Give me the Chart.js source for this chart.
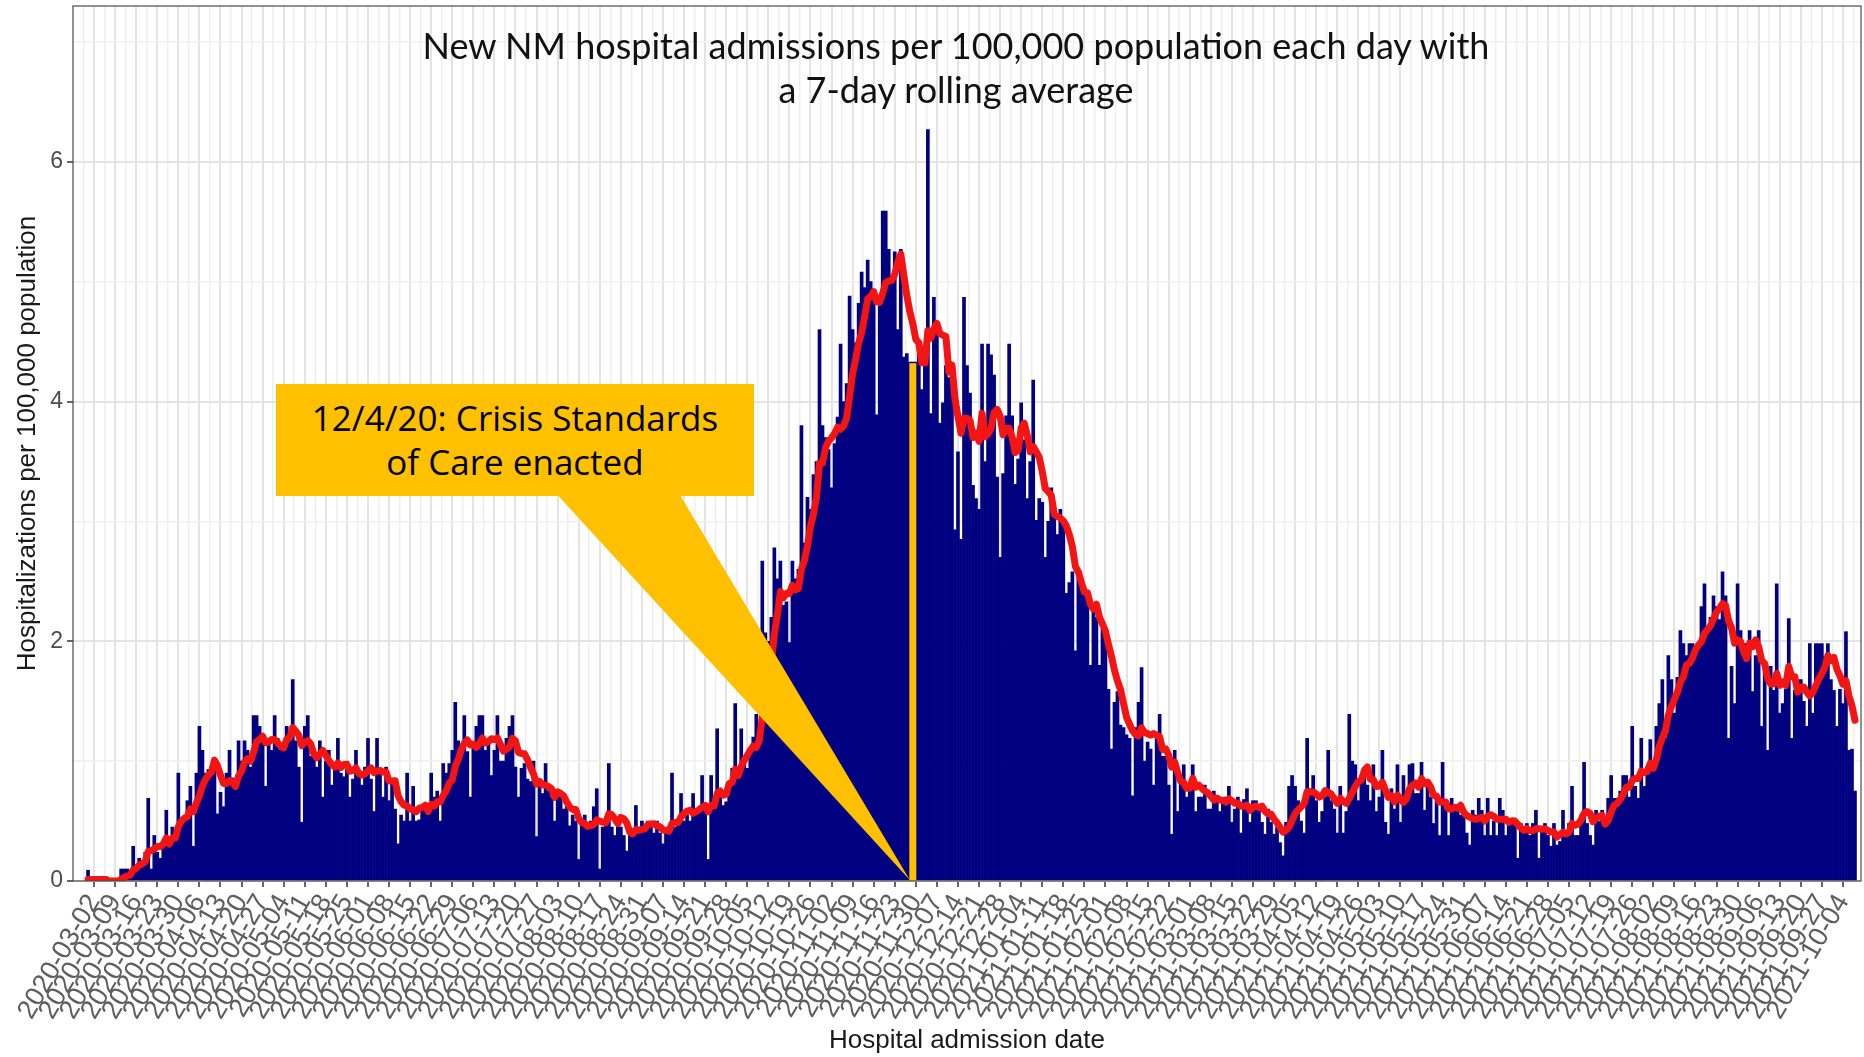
<!DOCTYPE html>
<html>
<head>
<meta charset="utf-8">
<title>NM hospital admissions per 100,000</title>
<script src="https://cdn.jsdelivr.net/npm/chart.js@4.4.1/dist/chart.umd.min.js"></script>
<style>
  html, body { margin: 0; padding: 0; background: #fff; }
  .wrap { position: relative; width: 1864px; height: 1057px; overflow: hidden; }
  #chart { position: absolute; left: 0; top: 0; }
  .plot-title {
    position: absolute; left: 306px; top: 23px; width: 1300px;
    text-align: center; font-family: Lato, sans-serif; font-size: 36px;
    line-height: 44px; color: #111;
  }
  .callout {
    position: absolute; left: 276px; top: 384px; width: 478px; height: 112px;
    background: #ffc000; display: flex; align-items: center; justify-content: center;
    text-align: center; font-family: "Open Sans", sans-serif; font-size: 35px;
    line-height: 44px; color: #000;
  }
</style>
</head>
<body>
<div class="wrap">
  <canvas id="chart" width="1864" height="1057"></canvas>
  <div class="plot-title">New NM hospital admissions per 100,000 population each day with<br>a 7-day rolling average</div>
  <div class="callout">12/4/20: Crisis Standards<br>of Care enacted</div>
</div>
<script>
/* day numbers count from 2020-03-02 (day 0); the first bar is 2020-02-29 */
const firstDay = -2;

/* daily admissions per 100,000, one row per week (Mon..Sun) */
const dailyRate = [
  0.09, 0,
  0, 0, 0, 0, 0, 0, 0,
  0, 0, 0.1, 0.1, 0.1, 0.05, 0.29,
  0.1, 0.19, 0.17, 0.24, 0.69, 0.1, 0.38,
  0.24, 0.19, 0.33, 0.59, 0.33, 0.45, 0.38,
  0.9, 0.52, 0.5, 0.67, 0.79, 0.29, 0.9,
  1.29, 1.09, 0.9, 0.93, 0.95, 1.0, 0.56,
  0.74, 0.62, 0.9, 1.09, 0.86, 0.76, 1.17,
  1.0, 1.17, 1.09, 0.95, 1.38, 1.38, 1.29,
  1.19, 0.79, 1.14, 1.09, 1.38, 1.19, 1.09,
  1.09, 1.29, 1.24, 1.68, 1.17, 0.95, 0.49,
  1.29, 1.38, 1.04, 1.09, 0.95, 1.17, 0.7,
  1.0, 1.09, 0.8, 0.95, 1.19, 0.9, 0.87,
  1.0, 0.7, 0.85, 1.09, 0.87, 0.8, 0.95,
  1.19, 0.85, 0.58, 1.19, 0.9, 0.7, 0.95,
  0.67, 0.85, 0.6, 0.31, 0.55, 0.5, 0.9,
  0.5, 0.79, 0.5, 0.51, 0.6, 0.62, 0.55,
  0.9, 0.7, 0.75, 0.5, 0.98, 0.9, 0.98,
  1.09, 1.49, 1.17, 1.04, 1.38, 1.08, 0.7,
  1.14, 1.29, 1.38, 1.38, 1.09, 1.15, 0.88,
  1.09, 1.38, 1.0, 1.0, 1.19, 1.29, 1.38,
  0.95, 0.7, 0.94, 0.98, 0.85, 0.83, 1.0,
  0.37, 0.85, 0.73, 0.98, 0.75, 0.7, 0.5,
  0.7, 0.75, 0.6, 0.62, 0.46, 0.55, 0.5,
  0.18, 0.5, 0.55, 0.45, 0.5, 0.62, 0.77,
  0.1, 0.45, 0.5, 0.98, 0.45, 0.38, 0.5,
  0.45, 0.38, 0.25, 0.42, 0.38, 0.63, 0.45,
  0.5, 0.42, 0.5, 0.45, 0.4, 0.5, 0.4,
  0.31, 0.4, 0.45, 0.9, 0.45, 0.5, 0.73,
  0.5, 0.55, 0.5, 0.73, 0.55, 0.6, 0.88,
  0.6, 0.18, 0.88, 0.7, 1.27, 0.75, 0.63,
  0.66, 0.8, 0.94, 1.48, 0.9, 1.27, 1.0,
  0.94, 1.1, 1.2, 1.39, 1.3, 2.67, 2.07,
  2.0, 2.2, 2.78, 2.52, 2.67, 2.3, 2.33,
  1.99, 2.67, 2.52, 2.6, 3.8, 2.82, 3.2,
  3.1, 3.39, 3.5, 4.6, 3.8, 3.7, 3.6,
  3.28, 3.65, 3.87, 4.48, 4.0, 4.15, 4.88,
  4.6, 4.49, 4.82, 5.08, 4.95, 5.18, 5.0,
  4.9, 3.89, 4.8, 5.59, 5.59, 5.27, 5.04,
  5.25, 4.6, 5.27, 4.37, 4.4, 4.33, 4.33,
  4.33, 4.4, 4.1, 4.37, 6.27, 3.9, 4.87,
  4.65, 3.82, 3.99, 4.3, 4.2, 4.3, 2.93,
  3.58, 2.85, 4.87, 4.3, 4.07, 3.3, 3.19,
  3.1, 4.48, 3.5, 4.48, 4.39, 4.22, 3.37,
  2.7, 3.4, 3.88, 4.48, 3.88, 3.31, 3.52,
  3.99, 3.68, 3.19, 3.5, 4.18, 3.01, 3.19,
  3.16, 2.7, 3.0, 3.28, 3.07, 2.89, 3.1,
  3.0, 2.4, 2.49, 2.58, 1.92, 2.55, 2.5,
  2.43, 2.37, 1.8, 2.31, 2.2, 1.8, 2.1,
  2.01, 1.6, 1.1, 1.49, 1.58, 1.3, 1.28,
  1.22, 1.19, 0.71, 1.28, 1.49, 1.78, 1.0,
  1.16, 1.1, 0.8, 1.19, 1.39, 1.04, 1.04,
  0.8, 0.39, 1.09, 0.58, 0.88, 0.97, 0.7,
  0.8, 0.97, 0.58, 0.7, 0.7, 0.8, 0.6,
  0.6, 0.75, 0.7, 0.58, 0.68, 0.7, 0.79,
  0.49, 0.6, 0.7, 0.4, 0.68, 0.77, 0.49,
  0.67, 0.67, 0.6, 0.49, 0.39, 0.6, 0.49,
  0.39, 0.45, 0.32, 0.21, 0.49, 0.79, 0.88,
  0.79, 0.67, 0.5, 0.4, 1.19, 0.77, 0.88,
  0.67, 0.49, 0.58, 0.7, 1.09, 0.67, 0.6,
  0.4, 0.79, 0.4, 0.58, 1.39, 1.0, 0.97,
  0.67, 0.88, 0.95, 0.8, 0.67, 0.97, 0.58,
  0.7, 1.09, 0.49, 0.39, 0.77, 0.6, 0.97,
  0.49, 0.88, 0.7, 0.97, 0.98, 0.73, 0.73,
  0.99, 0.59, 0.79, 0.7, 0.48, 0.68, 0.38,
  0.99, 0.6, 0.38, 0.69, 0.59, 0.62, 0.55,
  0.59, 0.4, 0.3, 0.59, 0.55, 0.69, 0.59,
  0.38, 0.69, 0.38, 0.5, 0.38, 0.69, 0.59,
  0.38, 0.5, 0.48, 0.48, 0.19, 0.48, 0.45,
  0.48, 0.38, 0.48, 0.59, 0.19, 0.45, 0.48,
  0.38, 0.29, 0.48, 0.3, 0.33, 0.59, 0.38,
  0.48, 0.79, 0.38, 0.38, 0.55, 0.99, 0.48,
  0.38, 0.3, 0.59, 0.5, 0.59, 0.48, 0.69,
  0.88, 0.69, 0.69, 0.75, 0.88, 0.88, 0.7,
  1.29, 0.79, 0.69, 1.19, 0.79, 0.95, 1.18,
  0.99, 1.29, 1.48, 1.68, 1.19, 1.88, 1.68,
  1.4, 1.7, 2.09, 1.98, 1.88, 1.98, 1.98,
  1.88, 1.98, 2.29, 2.48, 2.09, 2.2, 2.38,
  2.29, 2.18, 2.58, 2.38, 1.19, 1.79, 1.48,
  2.48, 2.09, 1.98, 1.98, 2.09, 1.58, 1.88,
  2.09, 1.29, 1.79, 1.09, 1.79, 1.59, 2.48,
  1.4, 1.48, 1.6, 2.19, 1.19, 1.59, 1.58,
  1.68, 1.5, 1.29, 1.98, 1.4, 1.98, 1.98,
  1.98, 1.87, 1.98, 1.68, 1.59, 1.29, 1.6,
  1.48, 2.08, 1.09, 1.1, 0.75,
];

/* weekly (Monday) tick labels, day 0, 7, 14 ... */
const weekLabels = [
  "2020-03-02", "2020-03-09", "2020-03-16", "2020-03-23", "2020-03-30",
  "2020-04-06", "2020-04-13", "2020-04-20", "2020-04-27", "2020-05-04",
  "2020-05-11", "2020-05-18", "2020-05-25", "2020-06-01", "2020-06-08",
  "2020-06-15", "2020-06-22", "2020-06-29", "2020-07-06", "2020-07-13",
  "2020-07-20", "2020-07-27", "2020-08-03", "2020-08-10", "2020-08-17",
  "2020-08-24", "2020-08-31", "2020-09-07", "2020-09-14", "2020-09-21",
  "2020-09-28", "2020-10-05", "2020-10-12", "2020-10-19", "2020-10-26",
  "2020-11-02", "2020-11-09", "2020-11-16", "2020-11-23", "2020-11-30",
  "2020-12-07", "2020-12-14", "2020-12-21", "2020-12-28", "2021-01-04",
  "2021-01-11", "2021-01-18", "2021-01-25", "2021-02-01", "2021-02-08",
  "2021-02-15", "2021-02-22", "2021-03-01", "2021-03-08", "2021-03-15",
  "2021-03-22", "2021-03-29", "2021-04-05", "2021-04-12", "2021-04-19",
  "2021-04-26", "2021-05-03", "2021-05-10", "2021-05-17", "2021-05-24",
  "2021-05-31", "2021-06-07", "2021-06-14", "2021-06-21", "2021-06-28",
  "2021-07-05", "2021-07-12", "2021-07-19", "2021-07-26", "2021-08-02",
  "2021-08-09", "2021-08-16", "2021-08-23", "2021-08-30", "2021-09-06",
  "2021-09-13", "2021-09-20", "2021-09-27", "2021-10-04",
];

const yTicks = [0, 1, 2, 3, 4, 5, 6, 7];
const yLabelled = [0, 2, 4, 6];

/* 12/4/20 marker: day it stands on and how high the yellow line goes */
const annotationDay = 272;
const annotationTop = 4.32;

const NAVY = "#000080";
const RED = "#f31414";
const GOLD = "#ffc000";

// 7-day trailing mean; days before the first bar count as no admissions
function rollingMean(values, span) {
  return values.map((v, i) => {
    const win = values.slice(Math.max(0, i - span + 1), i + 1);
    return win.reduce((a, b) => a + b, 0) / span;
  });
}

const barPoints = dailyRate.map((v, i) => ({ x: firstDay + i, y: v }));
const avgPoints = rollingMean(dailyRate, 7).map((v, i) => ({ x: firstDay + i, y: v }));

const isMajor = (v) => Math.abs(v % 7) < 1e-6 && v >= 0;

const calloutPlugin = {
  id: "callout",
  afterDatasetsDraw(chart) {
    const { ctx, chartArea, scales } = chart;
    const lineX = scales.x.getPixelForValue(annotationDay);
    const lineTop = scales.y.getPixelForValue(annotationTop);
    ctx.save();
    ctx.fillStyle = GOLD;
    // wedge from the label box down to the foot of the marker line
    ctx.beginPath();
    ctx.moveTo(553, 490);
    ctx.lineTo(677, 490);
    ctx.lineTo(lineX - 3, chartArea.bottom - 1);
    ctx.closePath();
    ctx.fill();
    ctx.fillRect(lineX - 3.5, lineTop, 7, chartArea.bottom - lineTop);
    ctx.restore();
  },
  afterDraw(chart) {
    const { ctx, chartArea } = chart;
    ctx.save();
    ctx.strokeStyle = "#4a4a4a";
    ctx.lineWidth = 1.2;
    ctx.strokeRect(chartArea.left, chartArea.top, chartArea.right - chartArea.left, chartArea.bottom - chartArea.top);
    ctx.restore();
  },
};

new Chart(document.getElementById("chart"), {
  type: "bar",
  data: {
    datasets: [
      {
        type: "line",
        data: avgPoints,
        borderColor: RED,
        borderWidth: 7,
        pointRadius: 0,
        tension: 0,
        borderJoinStyle: "round",
        borderCapStyle: "round",
        order: 1,
      },
      {
        type: "bar",
        data: barPoints,
        backgroundColor: NAVY,
        borderWidth: 0,
        barPercentage: 1,
        categoryPercentage: 1,
        order: 2,
      },
    ],
  },
  options: {
    responsive: false,
    animation: false,
    devicePixelRatio: 1,
    layout: { padding: { top: 6, right: 3, left: 0, bottom: 0 } },
    plugins: { legend: { display: false }, tooltip: { enabled: false } },
    scales: {
      x: {
        type: "linear",
        min: -7,
        max: 587,
        offset: false,
        afterBuildTicks: (scale) => {
          const ticks = [];
          for (let v = -3.5; v <= 585; v += 3.5) ticks.push({ value: v });
          scale.ticks = ticks;
        },
        afterFit: (scale) => {
          scale.height = 176;
          scale.paddingLeft = 0;
          scale.paddingRight = 0;
        },
        grid: {
          offset: false,
          color: (c) => (c.tick && isMajor(c.tick.value) ? "#e4e4e4" : "#efefef"),
          lineWidth: (c) => (c.tick && isMajor(c.tick.value) ? 2 : 1.5),
          tickColor: (c) => (c.tick && isMajor(c.tick.value) ? "#333333" : "rgba(0,0,0,0)"),
          tickLength: 6,
          tickWidth: 1.5,
        },
        border: { display: false },
        ticks: {
          autoSkip: false,
          minRotation: 60,
          maxRotation: 60,
          padding: 2,
          color: "#5e5e5e",
          font: { family: "Liberation Sans", size: 27 },
          callback: (v) => (isMajor(v) ? weekLabels[v / 7] : ""),
        },
        title: {
          display: true,
          text: "Hospital admission date",
          color: "#1a1a1a",
          font: { family: "Liberation Sans", size: 26 },
          padding: { top: 0, bottom: 1 },
        },
      },
      y: {
        min: 0,
        max: 7.3,
        afterBuildTicks: (scale) => {
          scale.ticks = yTicks.map((v) => ({ value: v }));
        },
        afterFit: (scale) => {
          scale.width = 73;
          scale.paddingTop = 0;
          scale.paddingBottom = 0;
        },
        grid: {
          color: (c) => (c.tick && yLabelled.includes(c.tick.value) ? "#e4e4e4" : "#f0f0f0"),
          lineWidth: (c) => (c.tick && yLabelled.includes(c.tick.value) ? 2 : 1.5),
          tickColor: (c) => (c.tick && yLabelled.includes(c.tick.value) ? "#333333" : "rgba(0,0,0,0)"),
          tickLength: 6,
          tickWidth: 1.5,
        },
        border: { display: false },
        ticks: {
          padding: 4,
          color: "#4d4d4d",
          font: { family: "Liberation Sans", size: 23 },
          callback: (v) => (yLabelled.includes(v) ? String(v) : ""),
        },
        title: {
          display: true,
          text: "Hospitalizations per 100,000 population",
          color: "#1a1a1a",
          font: { family: "Liberation Sans", size: 26 },
          padding: { top: 12, bottom: 0 },
        },
      },
    },
  },
  plugins: [calloutPlugin],
});
</script>
</body>
</html>
